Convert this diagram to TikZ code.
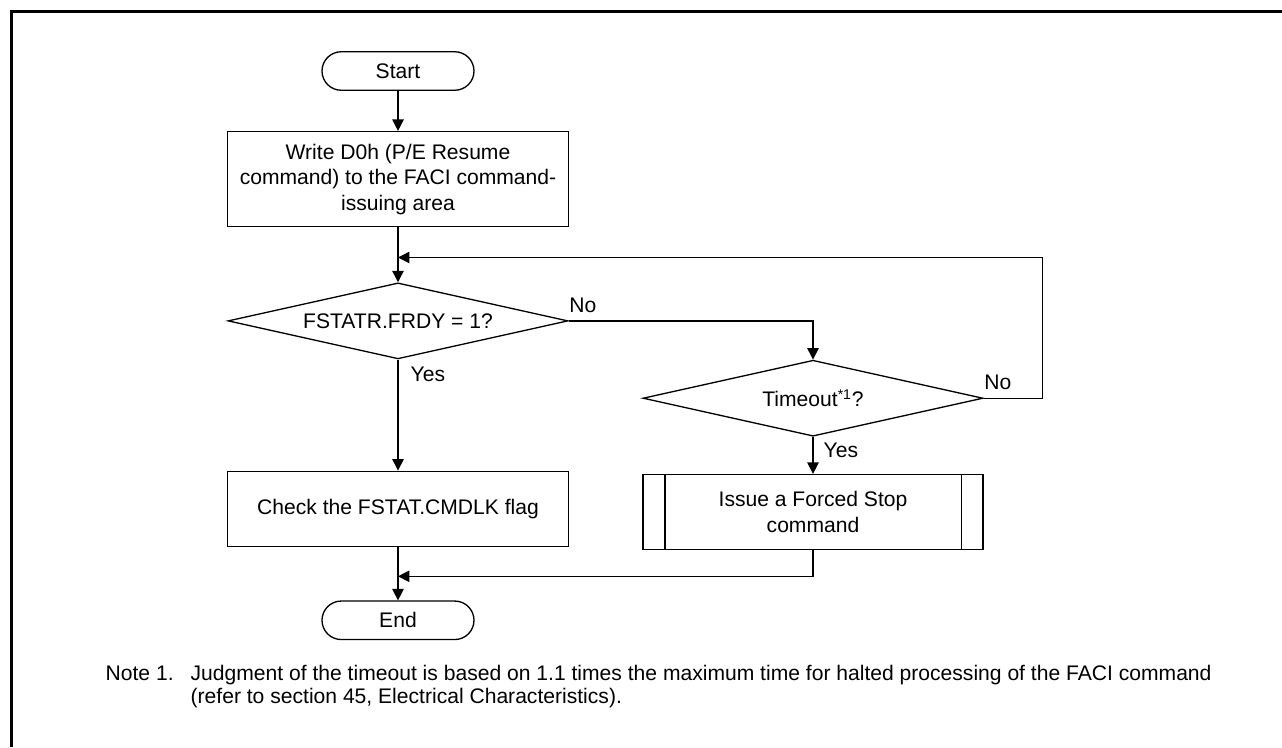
\documentclass[tikz,border=0pt]{standalone}
\usepackage{fontspec}
\setmainfont{Liberation Sans}
\usetikzlibrary{shapes.geometric, arrows.meta, positioning, calc}
\newcommand{\flowfont}{\fontsize{12}{14.5}\selectfont}
\newcommand{\notefont}{\fontsize{12}{13}\selectfont}

\begin{document}
\begin{tikzpicture}[
  term/.style={rectangle, rounded corners=0.385cm, minimum width=3.04cm,
    minimum height=0.77cm, draw, font=\flowfont},
  proc/.style={rectangle, minimum width=6.82cm, minimum height=1.5cm,
    draw, align=center, font=\flowfont, inner sep=2pt},
  test/.style={diamond, aspect=4.47, minimum width=6.8cm,
    minimum height=1.52cm, draw, inner sep=0pt, font=\flowfont},
  lbl/.style={font=\flowfont, inner sep=0pt},
  note/.style={font=\notefont, inner sep=0pt, align=left},
  arr/.style={-{Triangle[length=6.5pt, width=6.5pt]}},
  line width=0.75pt,
]
  \useasboundingbox (0,0) rectangle (25.64,-14.94);
  \draw[line width=1.7pt] (0.23,-14.94) -- (0.23,-0.23) -- (25.64,-0.23);

  \node[term] (start) at (7.96,-1.42) {Start};
  \node[proc, minimum height=1.9cm, below=0.8cm of start] (write)
    {Write D0h (P/E Resume\\command) to the FACI command-\\issuing area};
  \node[test, below=1.1cm of write] (frdy) {FSTATR.FRDY = 1?};
  \node[test, anchor=north] (tmo) at ([xshift=8.3cm]frdy.south)
    {Timeout\textsuperscript{*1}?};
  \node[proc, below=2.22cm of frdy] (check) {Check the FSTAT.CMDLK flag};
  \node[proc, minimum width=6.8cm, below=0.74cm of tmo] (stop)
    {Issue a Forced Stop\\command};
  \node[term, below=1.07cm of check] (end) {End};
  \draw ([xshift=0.45cm]stop.north west) -- ([xshift=0.45cm]stop.south west);
  \draw ([xshift=-0.45cm]stop.north east) -- ([xshift=-0.45cm]stop.south east);

  \coordinate (back) at ($(write.south)!0.55!(frdy.north)$);
  \coordinate (join) at ($(check.south)!0.55!(end.north)$);

  \draw[arr] (start) -- (write);
  \draw[arr] (write) -- (frdy);
  \draw[arr] (frdy.east) -| (tmo.north);
  \draw[arr] (frdy) -- (check);
  \draw[arr] (tmo) -- (stop);
  \draw[arr] (check) -- (end);
  \draw[arr] (tmo.east) -- ++(1.18,0) |- (back);
  \draw[arr] (stop.south) |- (join);

  \node[lbl, anchor=base west] (frdyno) at ([yshift=0.16cm]frdy.east) {No};
  \node[lbl, anchor=base west] (frdyyes) at ([xshift=0.24cm, yshift=-0.44cm]frdy.south) {Yes};
  \node[lbl, anchor=base west] (tmono) at ([yshift=0.18cm]tmo.east) {No};
  \node[lbl, anchor=base west] (tmoyes) at ([xshift=0.2cm, yshift=-0.42cm]tmo.south) {Yes};

  \node[note, anchor=base west] (notenum) at (2.1,-13.6) {Note 1.};
  \node[note, anchor=base west] (notetext) at (3.8,-14.06)
    {Judgment of the timeout is based on 1.1 times the maximum time for halted processing of the FACI command\\(refer to section 45, Electrical Characteristics).};
\end{tikzpicture}
\end{document}
